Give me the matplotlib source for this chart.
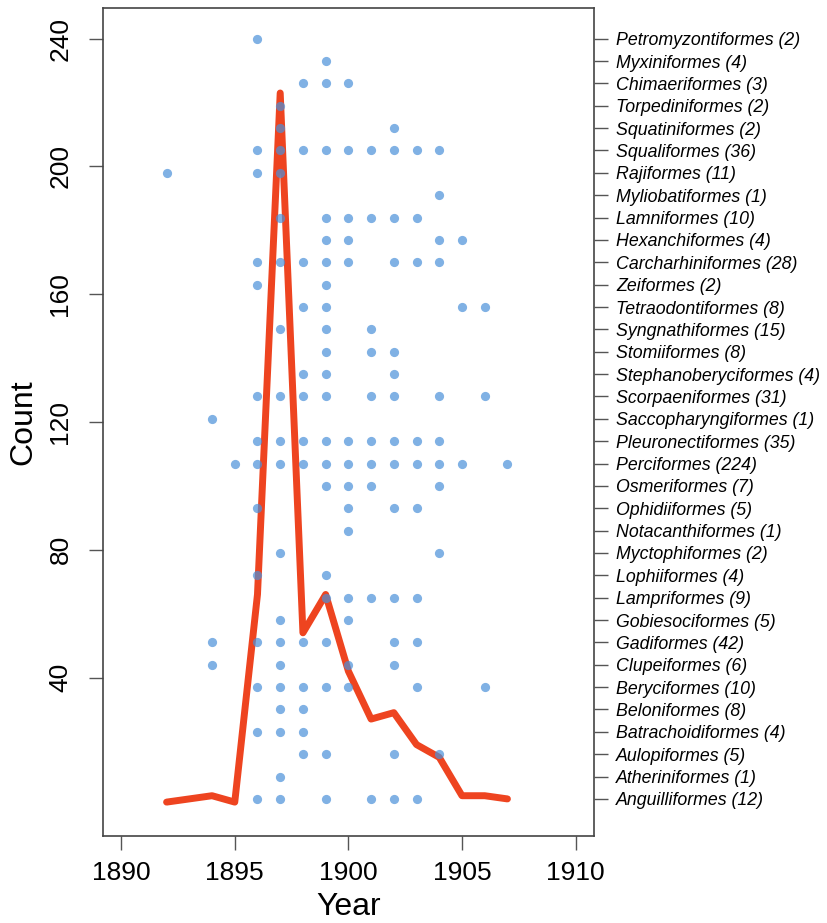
import numpy as np
import matplotlib
matplotlib.use("Agg")
import matplotlib.pyplot as plt

plt.rcParams['font.family'] = ['Liberation Sans', 'DejaVu Sans']

# orders from bottom to top, with species counts
orders = ['Anguilliformes', 'Atheriniformes', 'Aulopiformes', 'Batrachoidiformes',
          'Beloniformes', 'Beryciformes', 'Clupeiformes', 'Gadiformes',
          'Gobiesociformes', 'Lampriformes', 'Lophiiformes', 'Myctophiformes',
          'Notacanthiformes', 'Ophidiiformes', 'Osmeriformes', 'Perciformes',
          'Pleuronectiformes', 'Saccopharyngiformes', 'Scorpaeniformes',
          'Stephanoberyciformes', 'Stomiiformes', 'Syngnathiformes',
          'Tetraodontiformes', 'Zeiformes', 'Carcharhiniformes', 'Hexanchiformes',
          'Lamniformes', 'Myliobatiformes', 'Rajiformes', 'Squaliformes',
          'Squatiniformes', 'Torpediniformes', 'Chimaeriformes', 'Myxiniformes',
          'Petromyzontiformes']
species = [12, 1, 5, 4, 8, 10, 6, 42, 5, 9, 4, 2, 1, 5, 7, 224, 35, 1, 31, 4, 8,
           15, 8, 2, 28, 4, 10, 1, 11, 36, 2, 2, 3, 4, 2]

# years in which each order has a description (same order as above)
order_years = [
    [1896, 1897, 1899, 1901, 1902, 1903],
    [1897],
    [1898, 1899, 1902, 1904],
    [1896, 1897, 1898],
    [1897, 1898],
    [1896, 1897, 1898, 1899, 1900, 1903, 1906],
    [1894, 1897, 1900, 1902],
    [1894, 1896, 1897, 1898, 1899, 1902, 1903],
    [1897, 1900],
    [1899, 1900, 1901, 1902, 1903],
    [1896, 1899],
    [1897, 1904],
    [1900],
    [1896, 1900, 1902, 1903],
    [1899, 1900, 1901, 1904],
    [1895, 1896, 1897, 1898, 1899, 1900, 1901, 1902, 1903, 1904, 1905, 1907],
    [1896, 1897, 1898, 1899, 1900, 1901, 1902, 1903, 1904],
    [1894],
    [1896, 1897, 1898, 1899, 1901, 1902, 1904, 1906],
    [1898, 1899, 1902],
    [1899, 1901, 1902],
    [1897, 1899, 1901],
    [1898, 1899, 1905, 1906],
    [1896, 1899],
    [1896, 1897, 1898, 1899, 1900, 1902, 1903, 1904],
    [1899, 1900, 1904, 1905],
    [1897, 1899, 1900, 1901, 1902, 1903],
    [1904],
    [1892, 1896, 1897],
    [1896, 1897, 1898, 1899, 1900, 1901, 1902, 1903, 1904],
    [1897, 1902],
    [1897],
    [1898, 1899, 1900],
    [1899],
    [1896],
]

# species count per year
years = [1892, 1894, 1895, 1896, 1897, 1898, 1899, 1900, 1901, 1902, 1903, 1904,
         1905, 1906, 1907]
counts = [1, 3, 1, 66, 223, 54, 66, 42, 27, 29, 19, 15, 3, 3, 2]

fig = plt.figure(figsize=(8.27, 9.23), dpi=100)
ax = fig.add_axes([0.1245, 0.0943, 0.5935, 0.897])

order_pos = np.linspace(2, 240, len(orders))

ax.plot(years, counts, color='#EE4420', lw=5, solid_capstyle='round',
        solid_joinstyle='round', zorder=2)

xs, ys = [], []
for pos, yrs in zip(order_pos, order_years):
    for yr in yrs:
        xs.append(yr)
        ys.append(pos)
ax.scatter(xs, ys, s=44, color='#4A90D9', alpha=0.7, linewidths=0, zorder=3)

ax.set_xlim(1889.2, 1910.8)
ax.set_ylim(-9.6, 249.6)
ax.set_xticks([1890, 1895, 1900, 1905, 1910])
ax.set_yticks([40, 80, 120, 160, 200, 240])
ax.tick_params(axis='both', labelsize=19, length=10, width=1, color='#555555',
               direction='out')
ax.tick_params(axis='x', pad=8)
ax.tick_params(axis='y', pad=12)
for t in ax.get_yticklabels():
    t.set_rotation(90)
    t.set_va('center')
for sp in ax.spines.values():
    sp.set_color('#444444')
    sp.set_linewidth(1.2)

ax.set_xlabel('Year', fontsize=23, labelpad=5)
ax.set_ylabel('Count', fontsize=23, labelpad=7)

ax2 = ax.twinx()
ax2.set_ylim(ax.get_ylim())
ax2.set_yticks(order_pos)
ax2.set_yticklabels([f'{o} ({n})' for o, n in zip(orders, species)],
                    fontsize=12.8, style='italic')
ax2.tick_params(axis='y', length=10, width=1, color='#555555', pad=6)
for sp in ax2.spines.values():
    sp.set_visible(False)

fig.savefig('out.png', dpi=100)
